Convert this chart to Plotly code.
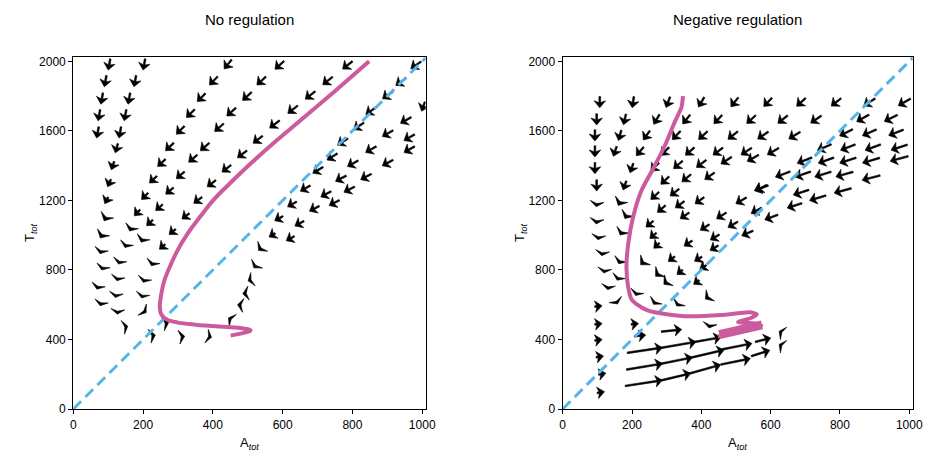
import math
import plotly.graph_objects as go

# ---------------- figure geometry ----------------
W, H = 927, 455
XPIX_L = (73.3, 425.7)
XPIX_R = (562.7, 912.7)
YPIX = (57.0, 409.0)          # top, bottom (px from top)
X_RANGE = [0, 1010]
Y_RANGE = [0, 2025]

X_TICKS = [0, 200, 400, 600, 800, 1000]
Y_TICKS = [0, 400, 800, 1200, 1600, 2000]

TITLE_LEFT = "No regulation"
TITLE_RIGHT = "Negative regulation"

# diagonal reference line T = 2A
DIAG_A = [0, 1010]
DIAG_T = [0, 2020]

# ---------------- left panel: trajectory ----------------
L_TRAJ_A = [848, 753, 660, 580, 510, 455, 405, 365, 328, 298, 277, 261, 252, 248, 252, 268,
            300, 350, 420, 470, 508, 451]
L_TRAJ_T = [2000, 1834, 1675, 1540, 1415, 1310, 1210, 1110, 1010, 910, 820, 740, 660, 590,
            545, 515, 497, 485, 474, 468, 452, 422]

# ---------------- left panel: vector field (glyph centre, vector) ----------------
L_DOWN_A = [103, 203, 92, 177, 82, 160, 74, 149, 70, 134, 124, 113, 103, 95, 93, 82]
L_DOWN_T = [1982, 1982, 1886, 1886, 1786, 1786, 1690, 1690, 1591, 1591, 1500, 1400, 1300, 1200, 1100, 1000]
L_DOWN_U = [-5, -5, -5, -5, -5, -5, -5, -5, -5, -5, -6, -7, -8, -8, -8, -8]
L_DOWN_V = [-55, -55, -55, -55, -55, -55, -55, -55, -55, -55, -45, -40, -36, -32, -30, -28]

L_CHEV_A = [79, 84, 70, 79, 165, 151, 132, 127, 122, 127, 198, 227, 203, 198]
L_CHEV_T = [908, 813, 703, 608, 1039, 943, 847, 751, 655, 560, 975, 838, 742, 652]
L_CHEV_U = [-4, -4, -4, -3, -6, -5, -4, -3, -2, -1, -6, -5, -4, -3]
L_CHEV_V = [-24, -22, -22, -20, -26, -24, -22, -22, -20, -20, -26, -24, -22, -20]

L_SW_A = [443, 402, 367, 336, 307, 276, 253, 229, 205, 183,
          591, 539, 498, 453, 418, 377, 343, 307, 276, 246, 219,
          786, 729, 679, 629, 577, 529, 484, 439, 396, 357, 322, 284, 255]
L_SW_T = [1983, 1888, 1792, 1700, 1604, 1508, 1416, 1320, 1224, 1129,
          1978, 1888, 1799, 1709, 1619, 1508, 1441, 1345, 1255, 1159, 1071,
          1978, 1888, 1805, 1723, 1638, 1550, 1466, 1383, 1297, 1201, 1109, 1019, 933]
L_SW_U = [-18, -20, -20, -20, -20, -20, -19, -18, -16, -14,
          -22, -22, -22, -22, -22, -22, -21, -20, -19, -17, -15,
          -24, -24, -24, -24, -24, -23, -23, -22, -21, -20, -18, -16, -14]
L_SW_V = [-45, -42, -40, -40, -40, -38, -36, -34, -32, -30,
          -40, -40, -40, -40, -38, -38, -36, -34, -32, -30, -28,
          -38, -38, -38, -38, -37, -36, -35, -34, -32, -30, -28, -26, -24]

L_LINE_A = [982, 939, 901, 853, 818, 772, 742, 701, 665, 627, 589, 570, 537, 522, 508, 494, 479, 451]
L_LINE_T = [1978, 1882, 1805, 1715, 1627, 1537, 1451, 1374, 1269, 1178, 1096, 1000, 924, 824, 742, 665, 598, 517]
L_LINE_U = [-25, -25, -25, -25, -25, -25, -25, -25, -24, -22, -20, -15, -10, -8, -12, -14, -14, -10]
L_LINE_V = [-35, -35, -35, -35, -34, -33, -32, -30, -28, -25, -22, -18, -20, -20, -8, -3, 3, 12]

L_RIGHT_A = [1003, 953, 901, 963, 963, 853, 901, 801, 839, 767, 791, 724, 748, 691, 648, 622]
L_RIGHT_T = [1740, 1661, 1585, 1562, 1493, 1493, 1416, 1412, 1336, 1326, 1263, 1236, 1186, 1153, 1067, 981]
L_RIGHT_U = [-8, -26, -26, -26, -26, -26, -26, -26, -26, -26, -26, -25, -25, -24, -22, -20]
L_RIGHT_V = [-45, -30, -30, -30, -30, -30, -29, -29, -28, -28, -27, -27, -26, -25, -24, -22]

L_BOT_A = [149, 203, 265, 227, 311, 389]
L_BOT_T = [473, 563, 493, 422, 416, 416]
L_BOT_U = [12, 8, 14, 14, 14, 12]
L_BOT_V = [6, -12, 6, 6, 4, -6]

# ---------------- right panel: trajectory ----------------
R_TRAJ_A = [347, 343, 323, 295, 261, 227, 203, 189, 184, 189, 199, 213, 247, 295, 371, 458, 540,
            560, 545, 506, 550, 573, 530, 448]
R_TRAJ_T = [1800, 1737, 1650, 1516, 1382, 1256, 1103, 949, 815, 700, 630, 604, 566, 547, 533,
            541, 556, 545, 525, 500, 493, 480, 457, 417]
R_BLOB_A = [452, 575]
R_BLOB_T = [428, 484]

# ---------------- right panel: vector field ----------------
R_DOWN_A = [107, 98, 93, 93, 93, 98, 203, 179, 165, 151, 199, 179]
R_DOWN_T = [1765, 1666, 1574, 1482, 1386, 1286, 1765, 1666, 1574, 1482, 1386, 1286]
R_DOWN_U = [0, 0, 0, 0, 0, 0, -4, -6, -7, -8, -8, -8]
R_DOWN_V = [-55, -55, -55, -55, -55, -55, -55, -52, -50, -48, -46, -44]

R_CHEV_A = [98, 98, 103, 114, 120, 131, 165, 184, 170, 165, 160, 213, 155, 266, 333, 424]
R_CHEV_T = [1179, 1080, 988, 896, 796, 700, 1189, 1112, 1016, 850, 754, 666, 617, 614, 604, 480]
R_CHEV_U = [-2, -2, -2, -2, -2, -2, -8, -8, -7, -6, -5, -4, 4, -6, -6, -2]
R_CHEV_V = [-26, -26, -24, -24, -22, -22, -30, -28, -26, -24, -22, -20, -16, -18, -18, -18]

R_RGT_A = [103, 103, 103, 107, 114, 110, 208, 223, 314]
R_RGT_T = [591, 489, 397, 301, 202, 96, 489, 422, 451]
R_RGT_U = [18, 18, 18, 18, 18, 18, 18, 28, 50]
R_RGT_V = [4, 4, 5, 6, 6, 6, 4, 6, 10]

R_SW_A = [304, 400, 496, 592, 688, 789,
          271, 357, 448, 544, 635, 731,
          242, 328, 405, 491, 578, 669,
          223, 295, 367, 448, 530, 607,
          266, 333, 400, 472, 549,
          295, 357, 424, 573,
          266, 323, 285, 338, 251, 352, 261, 410, 271, 362, 232, 314, 275, 338, 299, 386,
          419, 395, 458, 491, 439, 437, 391, 405, 515, 559]
R_SW_T = [1765, 1765, 1765, 1765, 1765, 1765,
          1666, 1666, 1666, 1666, 1666, 1666,
          1574, 1574, 1574, 1574, 1574, 1574,
          1482, 1482, 1482, 1482, 1482, 1482,
          1392, 1405, 1411, 1430, 1443,
          1315, 1328, 1340, 1271,
          1227, 1246, 1151, 1176, 1064, 1112, 997, 1045, 940, 953, 844, 863, 777, 787, 729, 729,
          643, 1199, 1112, 1061, 988, 926, 863, 815, 1199, 1141]
R_SW_U = [-10, -14, -18, -20, -22, -24,
          -14, -18, -20, -22, -24, -26,
          -16, -20, -22, -24, -26, -28,
          -18, -20, -22, -24, -26, -28,
          -20, -22, -24, -26, -28,
          -20, -22, -24, -26,
          -20, -22, -20, -22, -18, -22, -16, -22, -14, -20, -12, -16, -12, -14, -12, -14,
          -12, -22, -24, -24, -22, -20, -18, -16, -26, -26]
R_SW_V = [-52, -48, -45, -42, -40, -38,
          -48, -45, -42, -40, -38, -36,
          -45, -42, -40, -38, -36, -34,
          -42, -40, -38, -36, -34, -32,
          -40, -38, -36, -34, -32,
          -38, -36, -34, -30,
          -36, -34, -34, -32, -30, -30, -28, -28, -26, -26, -24, -24, -22, -22, -20, -20,
          -18, -32, -30, -28, -26, -24, -22, -20, -30, -28]

R_RG_A = [885, 986, 866, 947, 818, 885, 962, 755, 823, 895, 971, 698, 760, 823, 890, 971,
          635, 693, 751, 813, 890, 573, 688, 736, 808, 602, 669, 533]
R_RG_T = [1765, 1765, 1673, 1673, 1590, 1590, 1590, 1505, 1505, 1505, 1505, 1430, 1430, 1430,
          1430, 1440, 1350, 1350, 1350, 1350, 1330, 1271, 1246, 1214, 1256, 1103, 1170, 1011]
R_RG_U = [-28, -30, -30, -32, -32, -34, -36, -34, -36, -38, -40, -36, -38, -40, -42, -44,
          -36, -38, -40, -42, -44, -34, -38, -40, -42, -32, -36, -28]
R_RG_V = [-36, -34, -34, -32, -32, -30, -28, -30, -28, -28, -26, -28, -27, -26, -25, -24,
          -27, -26, -25, -24, -23, -26, -25, -24, -23, -24, -23, -24]

R_LONG_A = [237, 328, 413, 236, 323, 412, 503, 578, 234, 321, 405, 499, 571, 631, 631]
R_LONG_T = [338, 367, 397, 244, 276, 315, 360, 397, 149, 182, 226, 273, 321, 441, 365]
R_LONG_U = [86, 96, 74, 88, 87, 91, 73, 38, 91, 82, 86, 72, 45, -10, -10]
R_LONG_V = [25, 33, 26, 29, 35, 42, 29, 19, 28, 39, 48, 29, 29, 10, 10]

# ---------------- styling ----------------
ARROW_COLOR = "#000000"
TRAJ_COLOR = "#CC5B9E"
DIAG_COLOR = "#56B4E9"
FONT = "Liberation Sans, Arial, Helvetica, sans-serif"
ARROW_LEN_SCALE = 1.18


def px_scale(xpix):
    sx = (xpix[1] - xpix[0]) / (X_RANGE[1] - X_RANGE[0])
    sy = (YPIX[1] - YPIX[0]) / (Y_RANGE[1] - Y_RANGE[0])
    return sx, sy


def quiver_polys(A, T, U, V, xpix, w=1.7, hw=11.5, hw_short=14.0, hl=7.0, ha=5.4):
    """Matplotlib-like arrow polygons (pivot = middle) in data coordinates."""
    sx, sy = px_scale(xpix)
    xs, ys = [], []
    for a, t, u, v in zip(A, T, U, V):
        dx, dy = u * sx * ARROW_LEN_SCALE, v * sy * ARROW_LEN_SCALE
        L = math.hypot(dx, dy)
        if L == 0:
            continue
        ex, ey = dx / L, dy / L
        nx, ny = -ey, ex
        if L >= hl:
            pts = [(0, w / 2), (L - ha, w / 2), (L - hl, hw / 2), (L, 0),
                   (L - hl, -hw / 2), (L - ha, -w / 2), (0, -w / 2)]
        else:
            # short arrow: wide chevron with a moderate notch
            Ls = max(L, 5.0)
            pts = [(0.4 * Ls, 0), (0, hw_short / 2), (Ls, 0), (0, -hw_short / 2)]
            L = Ls
        first = None
        for p, q in pts:
            p2 = p - L / 2
            X = a + (p2 * ex + q * nx) / sx
            Y = t + (p2 * ey + q * ny) / sy
            if first is None:
                first = (X, Y)
            xs.append(X)
            ys.append(Y)
        xs.extend([first[0], None])
        ys.extend([first[1], None])
    return xs, ys


fig = go.Figure()


def add_arrows(groups, xpix, xa, ya):
    X, Y = [], []
    for g in groups:
        gx, gy = quiver_polys(*g, xpix)
        X += gx
        Y += gy
    fig.add_trace(go.Scatter(x=X, y=Y, mode="lines", fill="toself", fillcolor=ARROW_COLOR,
                             line=dict(width=0.6, color=ARROW_COLOR), hoverinfo="skip",
                             showlegend=False, xaxis=xa, yaxis=ya))


left_groups = [
    (L_DOWN_A, L_DOWN_T, L_DOWN_U, L_DOWN_V),
    (L_CHEV_A, L_CHEV_T, L_CHEV_U, L_CHEV_V),
    (L_SW_A, L_SW_T, L_SW_U, L_SW_V),
    (L_LINE_A, L_LINE_T, L_LINE_U, L_LINE_V),
    (L_RIGHT_A, L_RIGHT_T, L_RIGHT_U, L_RIGHT_V),
    (L_BOT_A, L_BOT_T, L_BOT_U, L_BOT_V),
]
right_groups = [
    (R_DOWN_A, R_DOWN_T, R_DOWN_U, R_DOWN_V),
    (R_CHEV_A, R_CHEV_T, R_CHEV_U, R_CHEV_V),
    (R_RGT_A, R_RGT_T, R_RGT_U, R_RGT_V),
    (R_SW_A, R_SW_T, R_SW_U, R_SW_V),
    (R_RG_A, R_RG_T, R_RG_U, R_RG_V),
    (R_LONG_A, R_LONG_T, R_LONG_U, R_LONG_V),
]

add_arrows(left_groups, XPIX_L, "x", "y")
add_arrows(right_groups, XPIX_R, "x2", "y2")

for xa, ya in (("x", "y"), ("x2", "y2")):
    fig.add_trace(go.Scatter(x=DIAG_A, y=DIAG_T, mode="lines",
                             line=dict(color=DIAG_COLOR, width=3, dash="11px,6px"),
                             hoverinfo="skip", showlegend=False, xaxis=xa, yaxis=ya))

fig.add_trace(go.Scatter(x=L_TRAJ_A, y=L_TRAJ_T, mode="lines",
                         line=dict(color=TRAJ_COLOR, width=4, shape="spline", smoothing=1.0),
                         hoverinfo="skip", showlegend=False, xaxis="x", yaxis="y"))
fig.add_trace(go.Scatter(x=R_TRAJ_A, y=R_TRAJ_T, mode="lines",
                         line=dict(color=TRAJ_COLOR, width=4, shape="spline", smoothing=0.6),
                         hoverinfo="skip", showlegend=False, xaxis="x2", yaxis="y2"))
fig.add_trace(go.Scatter(x=R_BLOB_A, y=R_BLOB_T, mode="lines",
                         line=dict(color=TRAJ_COLOR, width=9),
                         hoverinfo="skip", showlegend=False, xaxis="x2", yaxis="y2"))

ydom = [(H - YPIX[1]) / H, (H - YPIX[0]) / H]
axis_common = dict(showline=True, linecolor="black", linewidth=1.3, mirror=True,
                   ticks="outside", ticklen=4, tickwidth=1.2, tickcolor="black",
                   showgrid=False, zeroline=False,
                   tickfont=dict(family=FONT, size=12, color="black"))

fig.update_layout(
    width=W, height=H, margin=dict(l=0, r=0, t=0, b=0, autoexpand=False),
    paper_bgcolor="white", plot_bgcolor="white",
    xaxis=dict(domain=[XPIX_L[0] / W, XPIX_L[1] / W], range=X_RANGE, tickvals=X_TICKS,
               anchor="y", **axis_common),
    yaxis=dict(domain=ydom, range=Y_RANGE, tickvals=Y_TICKS, anchor="x", **axis_common),
    xaxis2=dict(domain=[XPIX_R[0] / W, XPIX_R[1] / W], range=X_RANGE, tickvals=X_TICKS,
                anchor="y2", **axis_common),
    yaxis2=dict(domain=ydom, range=Y_RANGE, tickvals=Y_TICKS, anchor="x2", **axis_common),
    showlegend=False,
)

cL = (XPIX_L[0] + XPIX_L[1]) / 2 / W
cR = (XPIX_R[0] + XPIX_R[1]) / 2 / W
for cx, txt in ((cL, TITLE_LEFT), (cR, TITLE_RIGHT)):
    fig.add_annotation(xref="paper", yref="paper", x=cx, y=1 - 20 / H, text=txt,
                       showarrow=False, xanchor="center", yanchor="middle",
                       font=dict(family=FONT, size=15, color="black"))
for cx in (cL, cR):
    fig.add_annotation(xref="paper", yref="paper", x=cx, y=1 - 443 / H,
                       text="A<sub><i>tot</i></sub>", showarrow=False,
                       xanchor="center", yanchor="middle",
                       font=dict(family=FONT, size=13, color="black"))
for lx in (31 / W, 521 / W):
    fig.add_annotation(xref="paper", yref="paper", x=lx, y=1 - 233 / H,
                       text="T<sub><i>tot</i></sub>", showarrow=False, textangle=-90,
                       xanchor="center", yanchor="middle",
                       font=dict(family=FONT, size=13, color="black"))

fig.write_html("out.html", config={"responsive": False, "displayModeBar": False},
               post_script="document.body.style.margin='0';document.body.style.overflow='hidden';")
